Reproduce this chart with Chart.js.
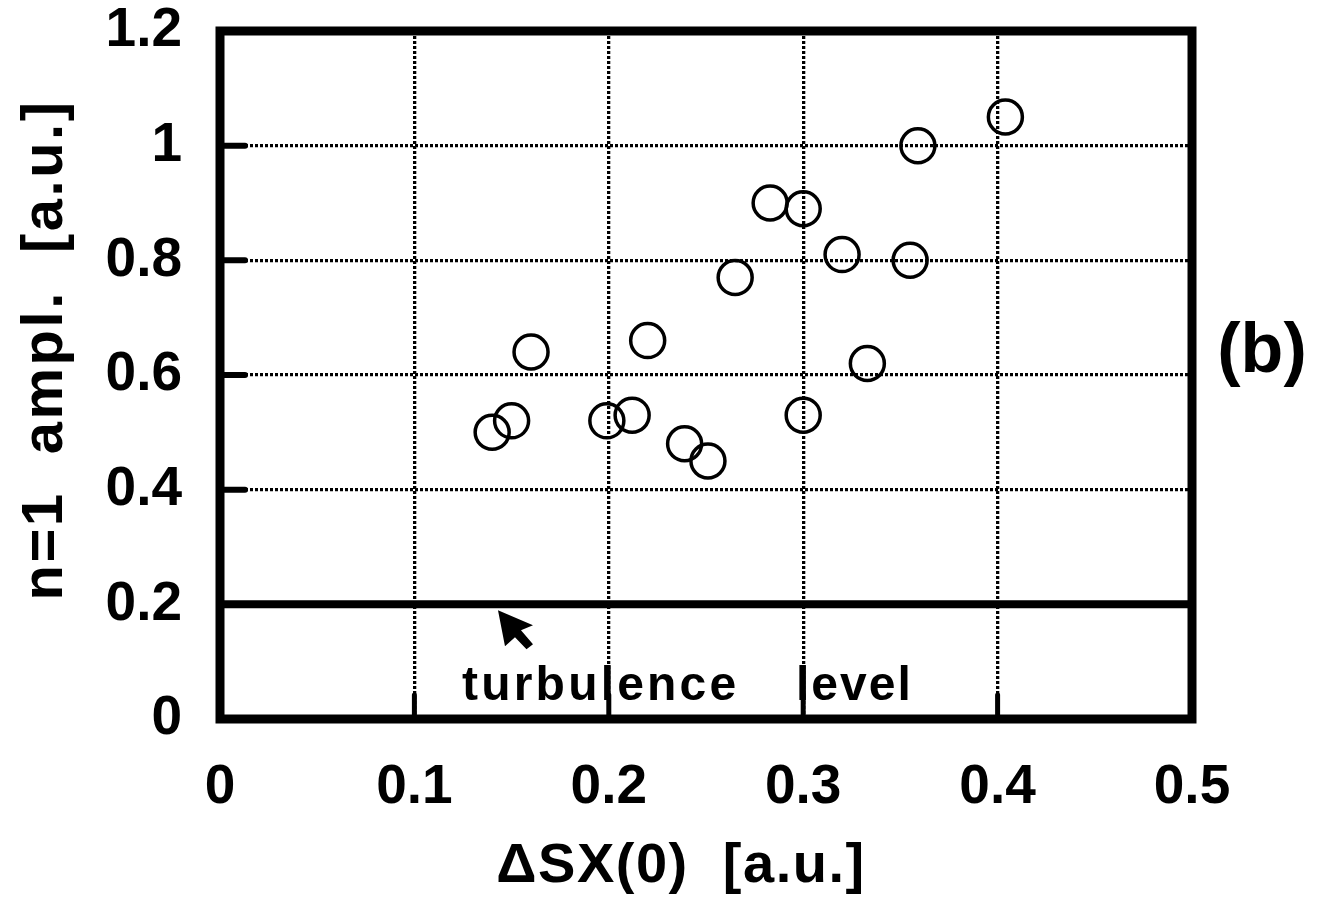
<!DOCTYPE html>
<html>
<head>
<meta charset="utf-8">
<script src="https://cdn.jsdelivr.net/npm/chart.js@4.4.0/dist/chart.umd.min.js"></script>
<style>
  html, body { margin: 0; padding: 0; background: #fff; }
  #wrap { width: 1326px; height: 899px; }
</style>
</head>
<body>
<div id="wrap"><canvas id="chart"></canvas></div>
<script>
// n=1 amplitude versus delta SX(0), with the turbulence level marked
var dsx  = [0.140, 0.150, 0.160, 0.199, 0.212, 0.220, 0.239, 0.251, 0.265, 0.283, 0.300, 0.300, 0.320, 0.333, 0.355, 0.359, 0.404];
var ampl = [0.50, 0.52, 0.64, 0.52, 0.53, 0.66, 0.48, 0.45, 0.77, 0.90, 0.89, 0.53, 0.81, 0.62, 0.80, 1.00, 1.05];
var turbulenceLevel = 0.2;

var xTicks = [0, 0.1, 0.2, 0.3, 0.4, 0.5];
var xTickLabels = ['0', '0.1', '0.2', '0.3', '0.4', '0.5'];
var yTicks = [0, 0.2, 0.4, 0.6, 0.8, 1, 1.2];
var yTickLabels = ['0', '0.2', '0.4', '0.6', '0.8', '1', '1.2'];

var FONT = '"Liberation Sans", Arial, Helvetica, sans-serif';

function line(ctx, x1, y1, x2, y2) {
    ctx.beginPath();
    ctx.moveTo(x1, y1);
    ctx.lineTo(x2, y2);
    ctx.stroke();
}

// frame, inward tick marks, labels and the arrow
var decorations = {
    id: 'decorations',
    afterDatasetsDraw: function (chart) {
        var ctx = chart.ctx, a = chart.chartArea;
        var xs = chart.scales.x, ys = chart.scales.y;
        ctx.save();
        ctx.strokeStyle = '#000';
        ctx.fillStyle = '#000';

        ctx.lineCap = 'round';
        ctx.lineWidth = 6;
        yTicks.forEach(function (v) {
            if (v <= turbulenceLevel || v >= 1.2) return;
            var py = ys.getPixelForValue(v);
            line(ctx, a.left, py, a.left + 25, py);
        });
        ctx.lineWidth = 5;
        xTicks.forEach(function (v) {
            if (v <= 0 || v >= 0.5) return;
            var px = xs.getPixelForValue(v);
            line(ctx, px, a.bottom, px, a.bottom - 24);
        });

        ctx.lineCap = 'butt';
        ctx.lineWidth = 9;
        ctx.strokeRect(a.left, a.top, a.right - a.left, a.bottom - a.top);

        // arrow pointing at the level line
        var tx = xs.getPixelForValue(0.143), ty = ys.getPixelForValue(turbulenceLevel) + 6;
        var pts = [[0, 0], [35, 15], [23, 20], [35, 34], [28.5, 39], [17, 27], [7, 36]];
        ctx.beginPath();
        pts.forEach(function (p, i) {
            if (i === 0) ctx.moveTo(tx + p[0], ty + p[1]);
            else ctx.lineTo(tx + p[0], ty + p[1]);
        });
        ctx.closePath();
        ctx.fill();

        ctx.textBaseline = 'alphabetic';
        ctx.font = 'bold 48px ' + FONT;
        ctx.letterSpacing = '3.2px';
        ctx.textAlign = 'left';
        var by = ys.getPixelForValue(0.033);
        ctx.fillText('turbulence', xs.getPixelForValue(0.1245), by);
        ctx.letterSpacing = '2px';
        ctx.fillText('level', xs.getPixelForValue(0.2963), by);

        // axis titles
        ctx.textAlign = 'center';
        ctx.font = 'bold 56px ' + FONT;
        ctx.letterSpacing = '1.5px';
        ctx.fillText('\u0394SX(0)  [a.u.]', 681, 882);

        ctx.save();
        ctx.translate(62, 350);
        ctx.rotate(-Math.PI / 2);
        ctx.font = 'bold 58px ' + FONT;
        ctx.letterSpacing = '2.5px';
        ctx.fillText('n=1  ampl.  [a.u.]', 0, 0);
        ctx.restore();

        ctx.font = 'bold 70px ' + FONT;
        ctx.letterSpacing = '0px';
        ctx.fillText('(b)', 1262, 372);
        ctx.restore();
    }
};

function gridColor(inner) {
    return function (c) {
        var v = c.tick ? c.tick.value : null;
        return inner(v) ? '#000' : 'rgba(0,0,0,0)';
    };
}

var points = dsx.map(function (x, i) { return { x: x, y: ampl[i] }; });

new Chart(document.getElementById('chart'), {
    type: 'scatter',
    data: {
        datasets: [{
            label: 'n=1 ampl.',
            data: points,
            pointStyle: 'circle',
            pointRadius: 17,
            pointHoverRadius: 17,
            borderWidth: 3.5,
            borderColor: '#000',
            backgroundColor: 'rgba(0,0,0,0)'
        }, {
            type: 'line',
            label: 'turbulence level',
            data: [{ x: 0, y: turbulenceLevel }, { x: 0.5, y: turbulenceLevel }],
            borderColor: '#000',
            borderWidth: 8,
            pointRadius: 0,
            fill: false
        }]
    },
    options: {
        responsive: true,
        maintainAspectRatio: false,
        animation: false,
        layout: { padding: { top: 31, right: 134, left: 0, bottom: 0 } },
        plugins: { legend: { display: false }, tooltip: { enabled: false } },
        scales: {
            x: {
                type: 'linear',
                min: 0,
                max: 0.5,
                afterFit: function (s) {
                    s.height = 180;
                    s.paddingLeft = 0;
                    s.paddingRight = 0;
                },
                afterBuildTicks: function (s) { s.ticks = xTicks.map(function (v) { return { value: v }; }); },
                ticks: {
                    padding: 36,
                    color: '#000',
                    font: { family: FONT, size: 55, weight: 'bold' },
                    callback: function (v) { return xTickLabels[xTicks.indexOf(v)]; }
                },
                grid: {
                    drawTicks: false,
                    lineWidth: 3.3,
                    color: gridColor(function (v) { return v > 0 && v < 0.5; })
                },
                border: { display: false, dash: [3, 2] }
            },
            y: {
                type: 'linear',
                min: 0,
                max: 1.2,
                afterFit: function (s) {
                    s.width = 220;
                    s.paddingTop = 0;
                    s.paddingBottom = 0;
                },
                afterBuildTicks: function (s) { s.ticks = yTicks.map(function (v) { return { value: v }; }); },
                ticks: {
                    padding: 38,
                    color: '#000',
                    font: { family: FONT, size: 55, weight: 'bold' },
                    callback: function (v) { return yTickLabels[yTicks.indexOf(v)]; }
                },
                grid: {
                    drawTicks: false,
                    lineWidth: 3.3,
                    color: gridColor(function (v) { return v > turbulenceLevel && v < 1.2; })
                },
                border: { display: false, dash: [3, 2] }
            }
        }
    },
    plugins: [decorations]
});
</script>
</body>
</html>
